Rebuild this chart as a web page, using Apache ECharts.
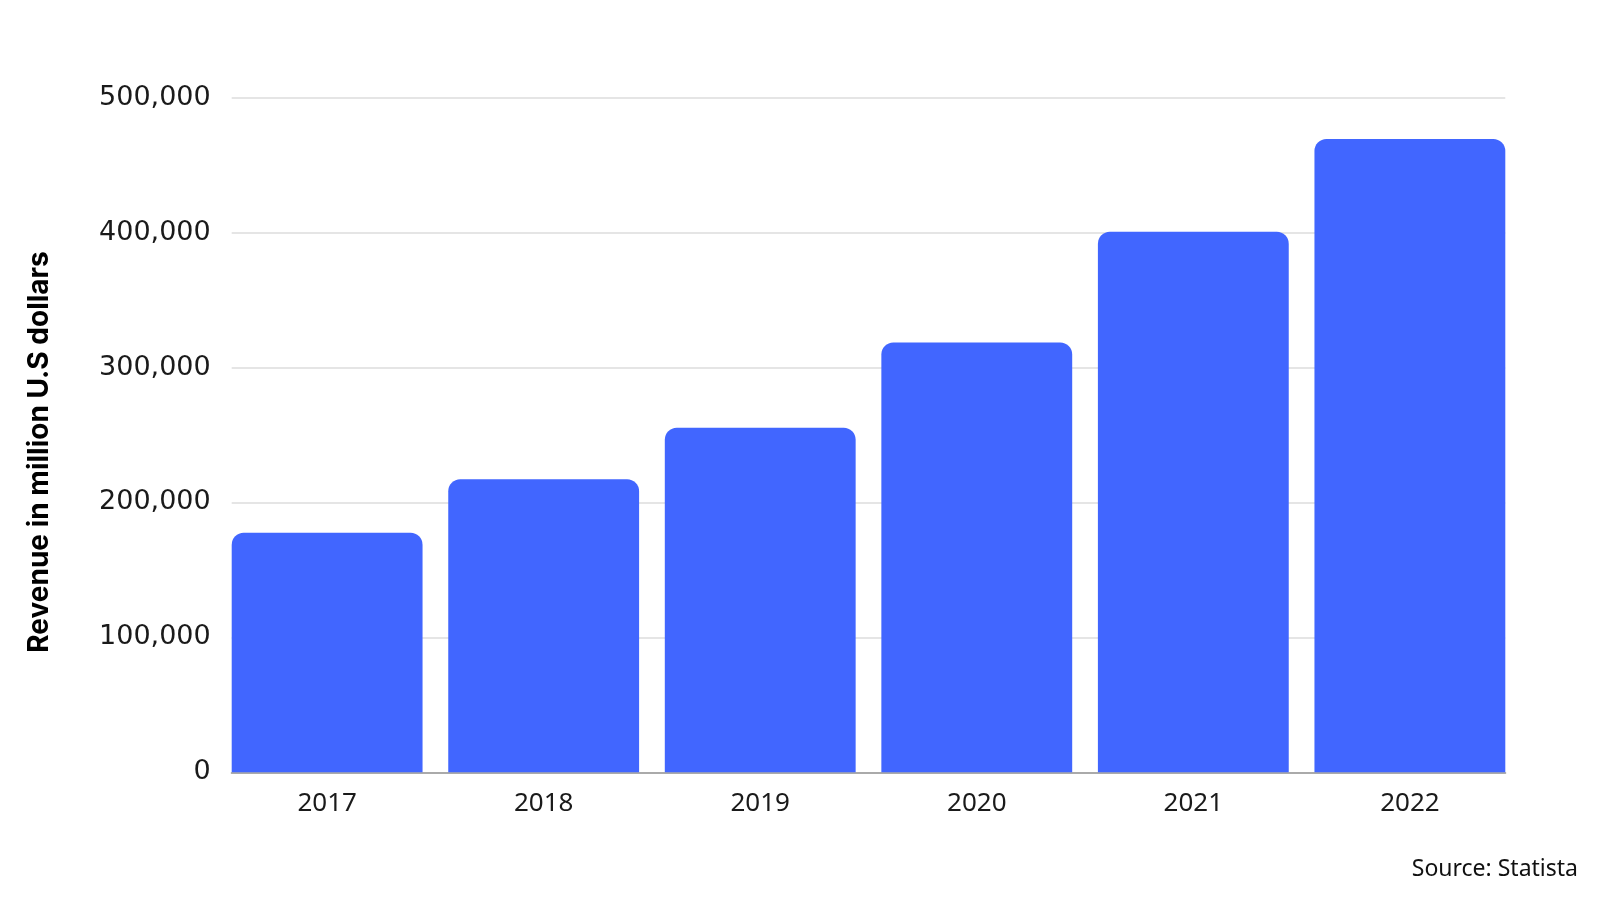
<!DOCTYPE html>
<html>
<head>
<meta charset="utf-8">
<title>Revenue</title>
<script src="https://cdn.jsdelivr.net/npm/echarts@6/dist/echarts.min.js"></script>
<style>
html,body{margin:0;padding:0;background:#fff;}
#chartDiv{width:1600px;height:900px;}
</style>
</head>
<body>
<div id="chartDiv"></div>
<script>
// data
var years    = ['2017','2018','2019','2020','2021','2022'];
var revenue  = [177600, 217200, 255400, 318500, 400700, 469400];
var yTicks   = [0, 100000, 200000, 300000, 400000, 500000];

var app = {};
app.barColor = '#4166ff';
app.font = 'Noto Sans';

app.chart = echarts.init(document.getElementById('chartDiv'));

var option = {
	backgroundColor:'#fff',
	animation:false,
	grid:[
		//grid 0: bars
		{left:218.85, right:81.85, top:97.7, bottom:127.7},
		//grid 1: gridlines + y labels, spans bar edges only
		{left:231.7, right:94.7, top:97.7, bottom:127.7}
	],
	xAxis:[
		{
			type:'category', gridIndex:0, data:years,
			axisLine:{show:false}, axisTick:{show:false},
			axisLabel:{color:'#1a1a1a', fontSize:26, fontFamily:app.font, margin:18}
		},
		{
			type:'value', gridIndex:1, min:0, max:1,
			axisLine:{show:true, lineStyle:{color:'#aaaaaa', width:2}},
			axisTick:{show:false}, axisLabel:{show:false}, splitLine:{show:false}
		}
	],
	yAxis:[
		{
			type:'value', gridIndex:0, min:yTicks[0], max:yTicks[yTicks.length-1], interval:100000,
			axisLine:{show:false}, axisTick:{show:false}, axisLabel:{show:false}, splitLine:{show:false}
		},
		{
			type:'value', gridIndex:1, min:yTicks[0], max:yTicks[yTicks.length-1], interval:100000,
			axisLine:{show:false}, axisTick:{show:false},
			axisLabel:{
				color:'#1a1a1a', fontSize:27, fontFamily:'DejaVu Sans', margin:21, padding:[5,0,0,0],
				formatter:function(v){ return v.toLocaleString('en-US'); }
			},
			splitLine:{lineStyle:{color:'#dddddd', width:1.5}},
			name:'Revenue in million U.S dollars',
			nameLocation:'middle', nameGap:178, nameRotate:90,
			nameTextStyle:{color:'#000', fontSize:28, fontWeight:'bold', fontFamily:'Inter', padding:[0,34,0,0]}
		}
	],
	series:[{
		type:'bar', xAxisIndex:0, yAxisIndex:0, z:3,
		data:revenue,
		barCategoryGap:'11.87%',
		itemStyle:{color:app.barColor, borderRadius:[12,12,0,0]}
	}],
	graphic:[{
		type:'text', right:22, top:858,
		style:{text:'Source: Statista', fill:'#111', fontSize:23, fontFamily:app.font}
	}]
};
app.chart.setOption(option);
</script>
</body>
</html>
